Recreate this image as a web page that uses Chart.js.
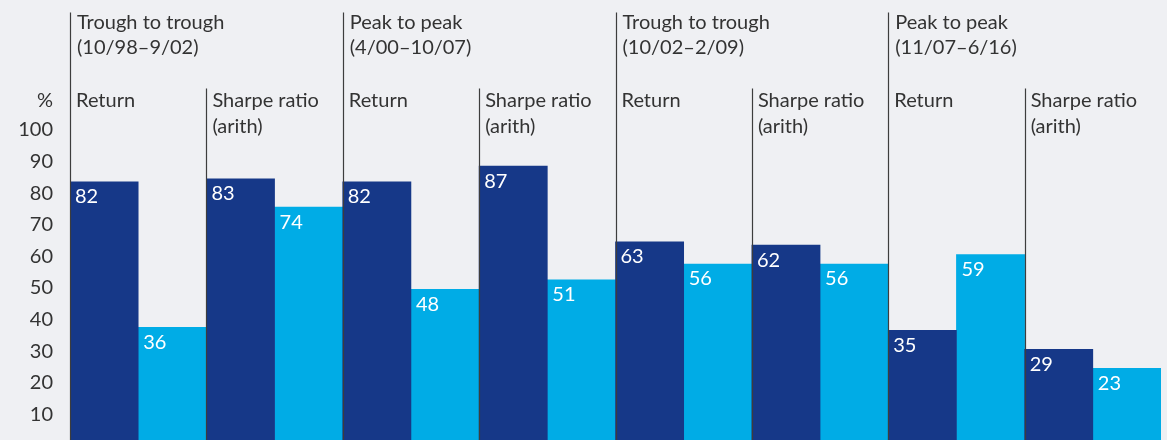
<!DOCTYPE html>
<html>
<head>
<meta charset="utf-8">
<script src="https://cdn.jsdelivr.net/npm/chart.js@4/dist/chart.umd.min.js"></script>
<style>
  html, body { margin: 0; padding: 0; background: #eff0f3; overflow: hidden; }
  #wrap { position: absolute; left: 0; top: 0; width: 1167px; height: 470px; }
</style>
</head>
<body>
<div id="wrap"><canvas id="c"></canvas></div>
<script>
// ---- data ----
const periodTitles = ['Trough to trough', 'Peak to peak', 'Trough to trough', 'Peak to peak'];
const periodDates  = ['(10/98–9/02)', '(4/00–10/07)', '(10/02–2/09)', '(11/07–6/16)'];
const metricLabels = [['Return'], ['Sharpe ratio', '(arith)']];
const categories = ['Return', 'Sharpe ratio', 'Return', 'Sharpe ratio', 'Return', 'Sharpe ratio', 'Return', 'Sharpe ratio'];
const darkValues  = [82, 83, 82, 87, 63, 62, 35, 29];
const lightValues = [36, 74, 48, 51, 56, 56, 59, 23];
const yTicks = [10, 20, 30, 40, 50, 60, 70, 80, 90, 100];
const yUnit = '%';

const TEXT = '#333333';
const FONT = 'Lato';
const DARK = '#163888';
const LIGHT = '#00ace6';

const headerPlugin = {
  id: 'headers',
  afterDatasetsDraw(chart) {
    const ctx = chart.ctx;
    const x = chart.scales.x;
    const ca = chart.chartArea;
    const half = (x.getPixelForValue(1) - x.getPixelForValue(0)) / 2;
    ctx.save();
    ctx.strokeStyle = '#3d3d3d';
    ctx.lineWidth = 1.2;
    for (let i = 0; i < categories.length; i++) {
      const lx = Math.round(x.getPixelForValue(i) - half) + 0.5;
      const top = (i % 2 === 0) ? 12.5 : 88.5;
      ctx.beginPath();
      ctx.moveTo(lx, top);
      ctx.lineTo(lx, ca.bottom);
      ctx.stroke();
    }
    ctx.fillStyle = TEXT;
    ctx.textBaseline = 'alphabetic';
    ctx.textAlign = 'left';
    ctx.font = '20px ' + FONT;
    for (let p = 0; p < periodTitles.length; p++) {
      const lx = x.getPixelForValue(p * 2) - half + 7;
      ctx.fillText(periodTitles[p], lx, 29);
      ctx.fillText(periodDates[p], lx, 54);
    }
    for (let i = 0; i < categories.length; i++) {
      const lx = x.getPixelForValue(i) - half + 6;
      const lines = metricLabels[i % 2];
      lines.forEach((t, k) => ctx.fillText(t, lx, 107 + k * 26));
    }
    ctx.textAlign = 'right';
    ctx.fillText(yUnit, 53, 107);
    ctx.fillStyle = '#ffffff';
    ctx.textAlign = 'left';
    ctx.textBaseline = 'top';
    ctx.font = '20px ' + FONT;
    chart.data.datasets.forEach((ds, di) => {
      const meta = chart.getDatasetMeta(di);
      meta.data.forEach((bar, i) => {
        const left = bar.x - bar.width / 2;
        ctx.fillText(String(ds.data[i]), left + 5, bar.y + 5);
      });
    });
    ctx.restore();
  }
};

new Chart(document.getElementById('c'), {
  type: 'bar',
  data: {
    labels: categories,
    datasets: [
      { label: 'Dark', data: darkValues, backgroundColor: DARK, barPercentage: 1, categoryPercentage: 1 },
      { label: 'Light', data: lightValues, backgroundColor: LIGHT, barPercentage: 1, categoryPercentage: 1 }
    ]
  },
  options: {
    responsive: true,
    maintainAspectRatio: false,
    animation: false,
    layout: { padding: { top: 125, bottom: 28, left: 0, right: 6 } },
    plugins: { legend: { display: false }, tooltip: { enabled: false } },
    scales: {
      x: { display: false },
      y: {
        min: 0, max: 100,
        border: { display: false },
        grid: { display: false, drawTicks: false },
        afterFit(scale) { scale.width = 70; },
        afterBuildTicks(scale) { scale.ticks = yTicks.map(v => ({ value: v })); },
        ticks: {
          padding: 17,
          labelOffset: 5,
          color: TEXT,
          font: { family: FONT, size: 20 }
        }
      }
    }
  },
  plugins: [headerPlugin]
});
</script>
</body>
</html>
